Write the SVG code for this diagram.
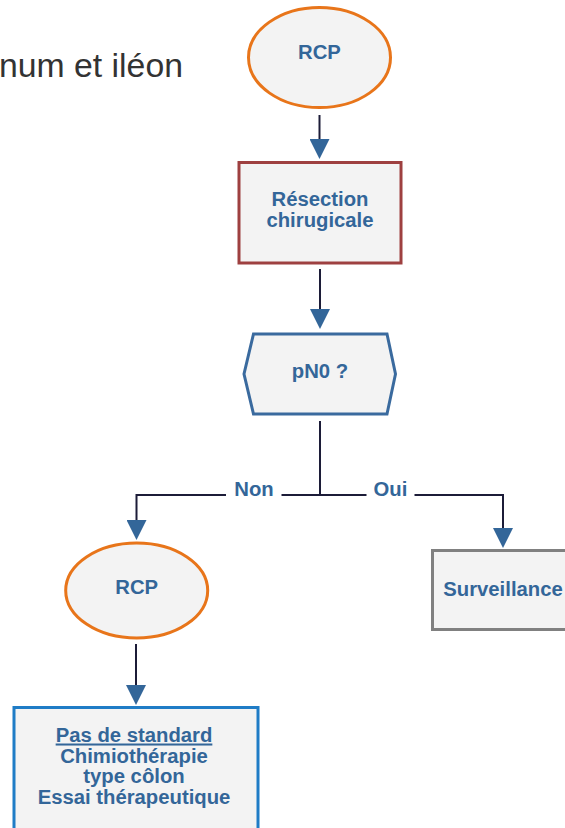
<svg xmlns="http://www.w3.org/2000/svg" width="565" height="828" viewBox="0 0 565 828">
<style>
  .lbl{font-family:"Liberation Sans",Arial,Helvetica,sans-serif;font-weight:bold;font-size:20.3px;fill:#336699;text-anchor:middle}
  .bg{font-family:"Liberation Sans",Arial,Helvetica,sans-serif;font-size:33.8px;fill:#333333}
  .conn{fill:none;stroke:#1c1c38;stroke-width:2}
  .fill{fill:#f3f3f3}
</style>
<defs>
  <marker id="arr" markerUnits="userSpaceOnUse" markerWidth="20" markerHeight="20" viewBox="0 0 20 20" refX="0" refY="10" orient="auto">
    <path d="M0,0 L20,10 L0,20 z" fill="#336699"/>
  </marker>
</defs>
<rect width="565" height="828" fill="#ffffff"/>
<text class="bg" x="183" y="77" text-anchor="end">num et iléon</text>

<g id="connectors">
  <path class="conn" d="M319.5,115 V139" marker-end="url(#arr)"/>
  <path class="conn" d="M320,269 V309" marker-end="url(#arr)"/>
  <path class="conn" d="M320,421 V495 H281.5 M226,495 H136.5 V520" marker-end="url(#arr)"/>
  <path class="conn" d="M320,495 H366.5 M414.5,495 H503 V528" marker-end="url(#arr)"/>
  <path class="conn" d="M136,644 V685" marker-end="url(#arr)"/>
  <text class="lbl" x="254" y="496">Non</text>
  <text class="lbl" x="390.5" y="496">Oui</text>
</g>

<g id="rcp1">
  <ellipse class="fill" cx="319.5" cy="57.5" rx="71" ry="50" stroke="#e8751a" stroke-width="3"/>
  <text class="lbl" x="319.5" y="59">RCP</text>
</g>

<g id="resection">
  <rect class="fill" x="239" y="162.5" width="162" height="100.5" stroke="#9e4040" stroke-width="3"/>
  <text class="lbl" x="320" y="205.5">Résection</text>
  <text class="lbl" x="320" y="226.5">chirugicale</text>
</g>

<g id="pn0">
  <polygon class="fill" points="253.5,334 387,334 395.5,374 387,414 253.5,414 244,374" stroke="#3a6a9e" stroke-width="3"/>
  <text class="lbl" x="320" y="377.5">pN0 ?</text>
</g>

<g id="rcp2">
  <ellipse class="fill" cx="136.7" cy="590.5" rx="71" ry="47.5" stroke="#e8751a" stroke-width="3"/>
  <text class="lbl" x="136.7" y="594">RCP</text>
</g>

<g id="surveillance">
  <rect class="fill" x="432.5" y="550.5" width="142" height="79" stroke="#808080" stroke-width="3"/>
  <text class="lbl" x="503" y="595.5">Surveillance</text>
</g>

<g id="standard">
  <rect class="fill" x="14" y="707.5" width="244" height="130" stroke="#1f7cc6" stroke-width="3"/>
  <text class="lbl" x="134" y="741.5" text-decoration="underline">Pas de standard</text>
  <text class="lbl" x="134" y="763">Chimiothérapie</text>
  <text class="lbl" x="134" y="783">type côlon</text>
  <text class="lbl" x="134" y="804">Essai thérapeutique</text>
</g>
</svg>
